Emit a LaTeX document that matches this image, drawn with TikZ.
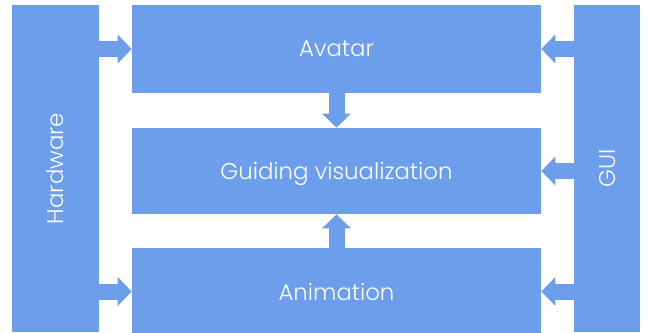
\documentclass[tikz,border=0pt]{standalone}
\usepackage{fontspec}
\setmainfont{Poppins}[UprightFont={* Light}]
\usetikzlibrary{arrows.meta}
\definecolor{boxblue}{HTML}{6D9EEB}

\begin{document}
\begin{tikzpicture}[x=0.02cm, y=-0.02cm]
% Define styles
\tikzstyle{block} = [rectangle, fill=boxblue, text=white, inner sep=0pt, text depth=0pt, font=\fontsize{13}{15}\selectfont]
\tikzstyle{flow} = [line width=0.32cm, draw=boxblue, -{Triangle[length=0.28cm, width=0.56cm]}]

\useasboundingbox (0,0) rectangle (650,332);

% Side bars
\node (hw) [block, minimum width=1.74cm, minimum height=6.54cm] at (55.5,168.5) {};
\node [block, rotate=90] at (hw.center) {Hardware};
\node (gui) [block, minimum width=1.32cm, minimum height=6.54cm] at (607,168.5) {};
\node [block, rotate=90] at (gui.center) {GUI};

% Middle boxes
\node (avatar) [block, minimum width=8.18cm, minimum height=1.76cm] at (336.5,49) {Avatar};
\node (guiding) [block, minimum width=8.18cm, minimum height=1.72cm] at (336.5,171) {Guiding visualization};
\node (anim) [block, minimum width=8.18cm, minimum height=1.74cm] at (336.5,291.5) {Animation};

% Arrows
\draw[flow] (hw.east |- avatar.west) -- (avatar.west);
\draw[flow] (hw.east |- anim.west) -- (anim.west);
\draw[flow] (gui.west |- avatar.east) -- (avatar.east);
\draw[flow] (gui.west |- guiding.east) -- (guiding.east);
\draw[flow] (gui.west |- anim.east) -- (anim.east);
\draw[flow] (avatar.south) -- (guiding.north);
\draw[flow] (anim.north) -- (guiding.south);
\end{tikzpicture}
\end{document}
